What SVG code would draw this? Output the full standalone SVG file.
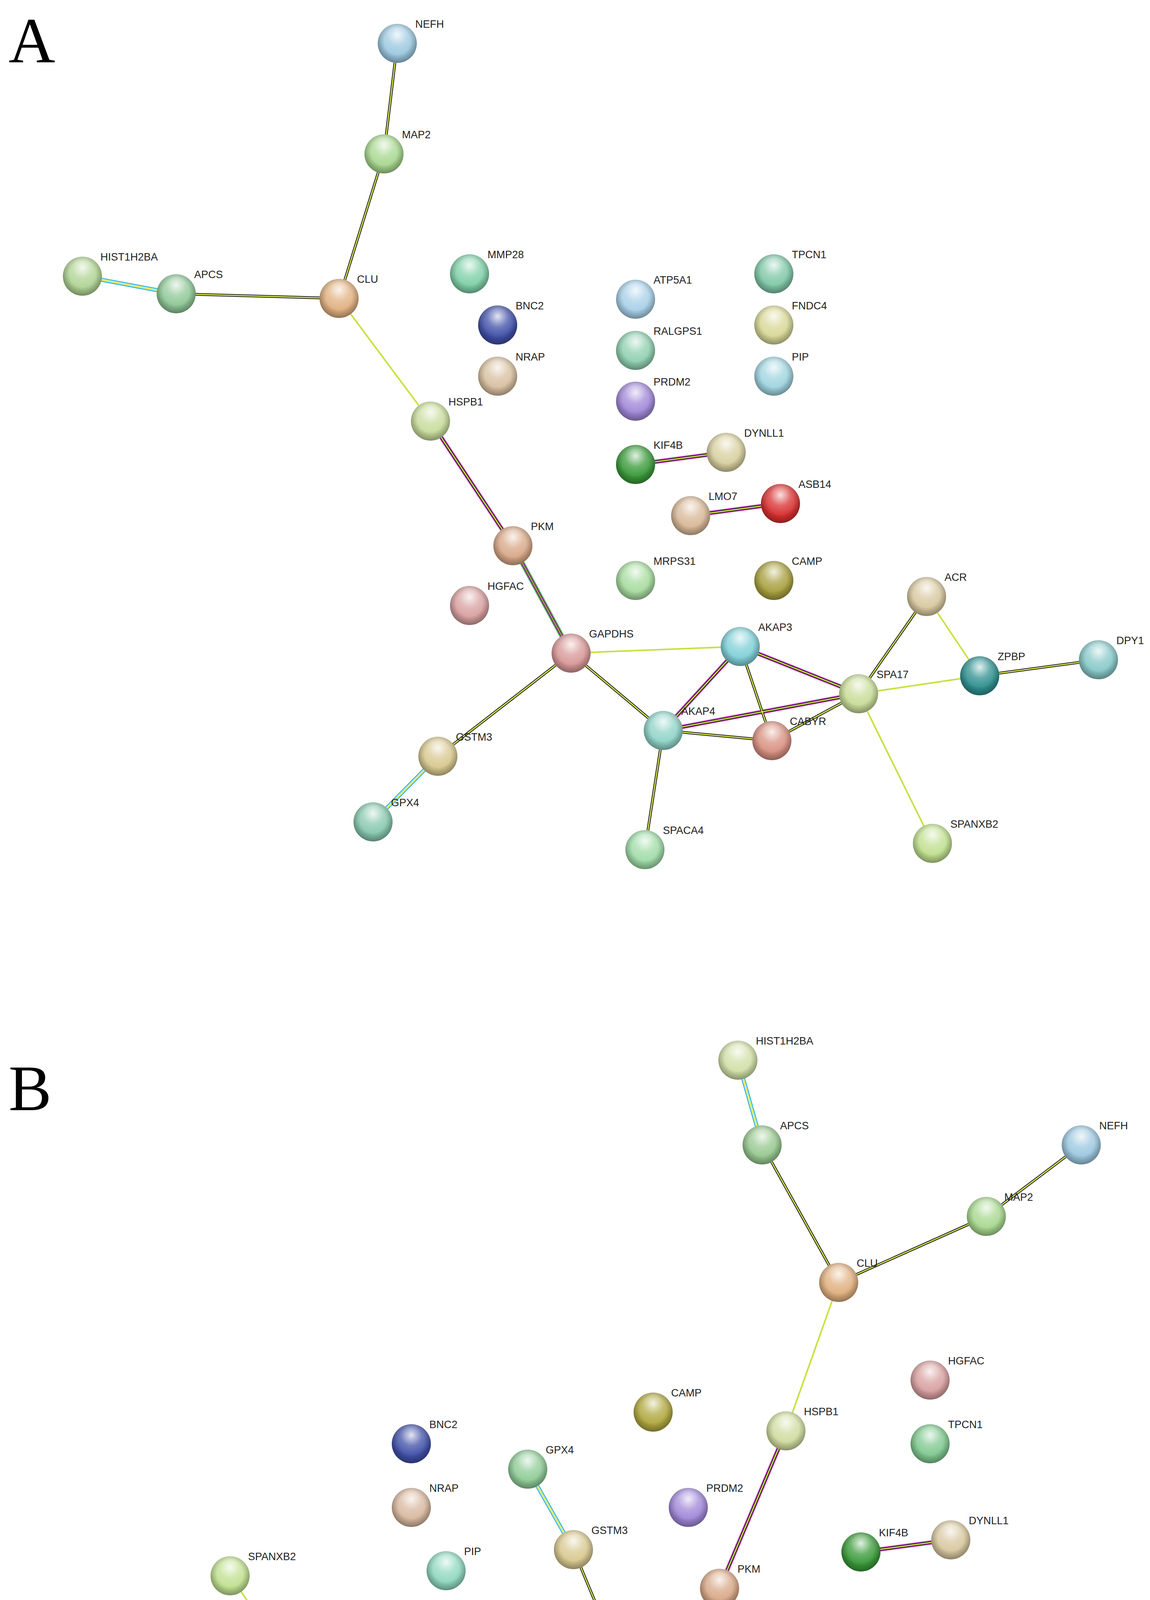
<svg xmlns="http://www.w3.org/2000/svg" xmlns:xlink="http://www.w3.org/1999/xlink" width="2944" height="5673" viewBox="0 0 2944 5673">
<style>
text{font-family:"Liberation Sans",Arial,sans-serif;font-size:27px;fill:#222}
.big{font-family:"Liberation Serif","Times New Roman",serif;font-size:165px;fill:#000}
.n circle{r:50px}
.e line{fill:none}
</style>
<defs>
<radialGradient id="hl" cx="0.5" cy="0.28" r="0.55">
<stop offset="0" stop-color="#fff" stop-opacity="0.85"/>
<stop offset="0.5" stop-color="#fff" stop-opacity="0.25"/>
<stop offset="1" stop-color="#fff" stop-opacity="0"/>
</radialGradient>
<radialGradient id="sh" cx="0.5" cy="0.45" r="0.55">
<stop offset="0.6" stop-color="#000" stop-opacity="0"/>
<stop offset="1" stop-color="#000" stop-opacity="0.35"/>
</radialGradient>
<g id="Aky">
<line x1="1017" y1="111" x2="983" y2="394"/><line x1="983" y1="394" x2="868" y2="764"/><line x1="451" y1="752" x2="868" y2="764"/>
<line x1="1462" y1="1672" x2="1698" y2="1870"/><line x1="1462" y1="1672" x2="1121" y2="1936"/><line x1="1895" y1="1655" x2="1976" y2="1896"/>
<line x1="1698" y1="1870" x2="1976" y2="1896"/><line x1="1976" y1="1896" x2="2198" y2="1776"/><line x1="1698" y1="1870" x2="1651" y2="2175"/>
<line x1="2198" y1="1776" x2="2372" y2="1527"/><line x1="2508" y1="1730" x2="2812" y2="1689"/>
</g>
<g id="Acy"><line x1="211" y1="707" x2="451" y2="752"/><line x1="1121" y1="1936" x2="955" y2="2104"/></g>
<g id="Ay">
<line x1="868" y1="764" x2="1102" y2="1078"/><line x1="1462" y1="1672" x2="1895" y2="1655"/><line x1="2372" y1="1527" x2="2508" y2="1730"/>
<line x1="2508" y1="1730" x2="2198" y2="1776"/><line x1="2198" y1="1776" x2="2387" y2="2159"/>
</g>
<g id="Am">
<line x1="1102" y1="1078" x2="1313" y2="1397"/><line x1="1895" y1="1655" x2="1698" y2="1870"/><line x1="1895" y1="1655" x2="2198" y2="1776"/>
<line x1="1698" y1="1870" x2="2198" y2="1776"/><line x1="1627" y1="1189" x2="1859" y2="1158"/><line x1="1768" y1="1320" x2="1998" y2="1289"/>
</g>
<g id="Ag"><line x1="1313" y1="1397" x2="1462" y2="1672"/></g>
<g id="Bcy"><line x1="1889" y1="2714" x2="1951" y2="2931"/><line x1="1468" y1="3967" x2="1351" y2="3761"/></g>
<g id="Bky">
<line x1="1951" y1="2931" x2="2147" y2="3283"/><line x1="2147" y1="3283" x2="2525" y2="3114"/><line x1="2525" y1="3114" x2="2768" y2="2931"/>
<line x1="1608" y1="4304" x2="1468" y2="3967"/><line x1="1608" y1="4304" x2="1232" y2="4609"/><line x1="536" y1="4343" x2="823" y2="4371"/>
<line x1="547" y1="4573" x2="257" y2="4691"/><line x1="1168" y1="4345" x2="985" y2="4538"/><line x1="985" y1="4538" x2="1232" y2="4609"/>
<line x1="823" y1="4371" x2="985" y2="4538"/><line x1="1232" y1="4609" x2="1123" y2="4898"/><line x1="2132" y1="4750" x2="2293" y2="5364"/>
</g>
<g id="By">
<line x1="2147" y1="3283" x2="2012" y2="3663"/><line x1="1608" y1="4304" x2="1168" y2="4345"/><line x1="589" y1="4034" x2="823" y2="4371"/>
<line x1="536" y1="4343" x2="547" y2="4573"/><line x1="547" y1="4573" x2="823" y2="4371"/>
</g>
<g id="Bm">
<line x1="2012" y1="3663" x2="1842" y2="4066"/><line x1="1842" y1="4066" x2="2153" y2="4483"/><line x1="823" y1="4371" x2="1168" y2="4345"/>
<line x1="823" y1="4371" x2="1232" y2="4609"/><line x1="1168" y1="4345" x2="1232" y2="4609"/><line x1="2204" y1="3973" x2="2434" y2="3942"/>
<line x1="1496" y1="4707" x2="1727" y2="4678"/>
</g>
<g id="Bg"><line x1="1842" y1="4066" x2="1608" y2="4304"/><line x1="1608" y1="4304" x2="2153" y2="4483"/><line x1="1608" y1="4304" x2="2132" y2="4750"/></g>
<g id="Bf">
<line x1="2153" y1="4483" x2="2434" y2="4436"/><line x1="2153" y1="4483" x2="2576" y2="4548"/><line x1="2153" y1="4483" x2="2336" y2="4599"/>
<line x1="2153" y1="4483" x2="2544" y2="4715"/><line x1="2153" y1="4483" x2="2132" y2="4750"/><line x1="2153" y1="4483" x2="2363" y2="4786"/>
<line x1="2434" y1="4436" x2="2576" y2="4548"/><line x1="2434" y1="4436" x2="2336" y2="4599"/><line x1="2434" y1="4436" x2="2544" y2="4715"/>
<line x1="2434" y1="4436" x2="2132" y2="4750"/><line x1="2434" y1="4436" x2="2363" y2="4786"/><line x1="2576" y1="4548" x2="2336" y2="4599"/>
<line x1="2576" y1="4548" x2="2544" y2="4715"/><line x1="2576" y1="4548" x2="2132" y2="4750"/><line x1="2576" y1="4548" x2="2363" y2="4786"/>
<line x1="2336" y1="4599" x2="2544" y2="4715"/><line x1="2336" y1="4599" x2="2132" y2="4750"/><line x1="2336" y1="4599" x2="2363" y2="4786"/>
<line x1="2544" y1="4715" x2="2132" y2="4750"/><line x1="2544" y1="4715" x2="2363" y2="4786"/><line x1="2132" y1="4750" x2="2363" y2="4786"/>
<line x1="2293" y1="5364" x2="2463" y2="5445"/><line x1="2293" y1="5364" x2="2200" y2="5514"/><line x1="2293" y1="5364" x2="2447" y2="5582"/>
<line x1="2293" y1="5364" x2="2293" y2="5622"/><line x1="2463" y1="5445" x2="2200" y2="5514"/><line x1="2463" y1="5445" x2="2447" y2="5582"/>
<line x1="2463" y1="5445" x2="2293" y2="5622"/><line x1="2200" y1="5514" x2="2447" y2="5582"/><line x1="2200" y1="5514" x2="2293" y2="5622"/>
<line x1="2447" y1="5582" x2="2293" y2="5622"/>
</g>
</defs>
<rect width="2944" height="5673" fill="#fff"/>
<text class="big" x="22" y="160">A</text>
<text class="big" x="22" y="2842">B</text>
<g id="connectors" class="e">
<use href="#Bf" stroke="#2ab0d8" stroke-width="15"/>
<use href="#Bf" stroke="#d63ad6" stroke-width="11"/>
<use href="#Bf" stroke="#2cb04a" stroke-width="8"/>
<use href="#Bf" stroke="#222" stroke-width="5"/>
<use href="#Bf" stroke="#d4e84a" stroke-width="2"/>
<use href="#Ag" stroke="#2cb04a" stroke-width="12"/><use href="#Bg" stroke="#2cb04a" stroke-width="12"/>
<use href="#Ag" stroke="#d63ad6" stroke-width="8"/><use href="#Bg" stroke="#d63ad6" stroke-width="8"/>
<use href="#Am" stroke="#d63ad6" stroke-width="11"/><use href="#Bm" stroke="#d63ad6" stroke-width="11"/>
<use href="#Acy" stroke="#2ab0d8" stroke-width="10"/><use href="#Bcy" stroke="#2ab0d8" stroke-width="10"/>
<use href="#Am" stroke="#222" stroke-width="7"/><use href="#Bm" stroke="#222" stroke-width="7"/>
<use href="#Ag" stroke="#222" stroke-width="5"/><use href="#Bg" stroke="#222" stroke-width="5"/>
<use href="#Aky" stroke="#222" stroke-width="7"/><use href="#Bky" stroke="#222" stroke-width="7"/>
<use href="#Acy" stroke="#fff" stroke-width="5"/><use href="#Bcy" stroke="#fff" stroke-width="5"/>
<use href="#Aky" stroke="#d4e84a" stroke-width="3"/><use href="#Bky" stroke="#d4e84a" stroke-width="3"/>
<use href="#Am" stroke="#d4e84a" stroke-width="3"/><use href="#Bm" stroke="#d4e84a" stroke-width="3"/>
<use href="#Ag" stroke="#d4e84a" stroke-width="2"/><use href="#Bg" stroke="#d4e84a" stroke-width="2"/>
<use href="#Acy" stroke="#d4e84a" stroke-width="3"/><use href="#Bcy" stroke="#d4e84a" stroke-width="3"/>
<use href="#Ay" stroke="#c8e03c" stroke-width="4"/><use href="#By" stroke="#c8e03c" stroke-width="4"/>
</g>
<g id="nodesA">
<g id="A_NEFH" class="n" transform="translate(1017,111)"><circle fill="#9cc8e0"/><circle fill="url(#sh)"/><circle fill="url(#hl)"/><text x="46" y="-40">NEFH</text></g>
<g id="A_MAP2" class="n" transform="translate(983,394)"><circle fill="#a8d890"/><circle fill="url(#sh)"/><circle fill="url(#hl)"/><text x="46" y="-40">MAP2</text></g>
<g id="A_CLU" class="n" transform="translate(868,764)"><circle fill="#e0b080"/><circle fill="url(#sh)"/><circle fill="url(#hl)"/><text x="46" y="-40">CLU</text></g>
<g id="A_HIST1H2BA" class="n" transform="translate(211,707)"><circle fill="#b0d494"/><circle fill="url(#sh)"/><circle fill="url(#hl)"/><text x="46" y="-40">HIST1H2BA</text></g>
<g id="A_APCS" class="n" transform="translate(451,752)"><circle fill="#90c898"/><circle fill="url(#sh)"/><circle fill="url(#hl)"/><text x="46" y="-40">APCS</text></g>
<g id="A_MMP28" class="n" transform="translate(1202,701)"><circle fill="#80d0a8"/><circle fill="url(#sh)"/><circle fill="url(#hl)"/><text x="46" y="-40">MMP28</text></g>
<g id="A_BNC2" class="n" transform="translate(1274,832)"><circle fill="#4050a8"/><circle fill="url(#sh)"/><circle fill="url(#hl)"/><text x="46" y="-40">BNC2</text></g>
<g id="A_NRAP" class="n" transform="translate(1274,963)"><circle fill="#d8c0a0"/><circle fill="url(#sh)"/><circle fill="url(#hl)"/><text x="46" y="-40">NRAP</text></g>
<g id="A_HSPB1" class="n" transform="translate(1102,1078)"><circle fill="#c8dc9c"/><circle fill="url(#sh)"/><circle fill="url(#hl)"/><text x="46" y="-40">HSPB1</text></g>
<g id="A_ATP5A1" class="n" transform="translate(1627,766)"><circle fill="#a8d0e8"/><circle fill="url(#sh)"/><circle fill="url(#hl)"/><text x="46" y="-40">ATP5A1</text></g>
<g id="A_RALGPS1" class="n" transform="translate(1627,897)"><circle fill="#90d0b0"/><circle fill="url(#sh)"/><circle fill="url(#hl)"/><text x="46" y="-40">RALGPS1</text></g>
<g id="A_PRDM2" class="n" transform="translate(1627,1027)"><circle fill="#a088d8"/><circle fill="url(#sh)"/><circle fill="url(#hl)"/><text x="46" y="-40">PRDM2</text></g>
<g id="A_TPCN1" class="n" transform="translate(1981,701)"><circle fill="#80c8a8"/><circle fill="url(#sh)"/><circle fill="url(#hl)"/><text x="46" y="-40">TPCN1</text></g>
<g id="A_FNDC4" class="n" transform="translate(1981,832)"><circle fill="#d8d898"/><circle fill="url(#sh)"/><circle fill="url(#hl)"/><text x="46" y="-40">FNDC4</text></g>
<g id="A_PIP" class="n" transform="translate(1981,963)"><circle fill="#a0d4e0"/><circle fill="url(#sh)"/><circle fill="url(#hl)"/><text x="46" y="-40">PIP</text></g>
<g id="A_KIF4B" class="n" transform="translate(1627,1189)"><circle fill="#3a9a3a"/><circle fill="url(#sh)"/><circle fill="url(#hl)"/><text x="46" y="-40">KIF4B</text></g>
<g id="A_DYNLL1" class="n" transform="translate(1859,1158)"><circle fill="#d8d0a0"/><circle fill="url(#sh)"/><circle fill="url(#hl)"/><text x="46" y="-40">DYNLL1</text></g>
<g id="A_LMO7" class="n" transform="translate(1768,1320)"><circle fill="#d8b898"/><circle fill="url(#sh)"/><circle fill="url(#hl)"/><text x="46" y="-40">LMO7</text></g>
<g id="A_ASB14" class="n" transform="translate(1998,1289)"><circle fill="#d83030"/><circle fill="url(#sh)"/><circle fill="url(#hl)"/><text x="46" y="-40">ASB14</text></g>
<g id="A_PKM" class="n" transform="translate(1313,1397)"><circle fill="#d8a888"/><circle fill="url(#sh)"/><circle fill="url(#hl)"/><text x="46" y="-40">PKM</text></g>
<g id="A_HGFAC" class="n" transform="translate(1202,1550)"><circle fill="#d8a0a0"/><circle fill="url(#sh)"/><circle fill="url(#hl)"/><text x="46" y="-40">HGFAC</text></g>
<g id="A_MRPS31" class="n" transform="translate(1627,1486)"><circle fill="#a8dca0"/><circle fill="url(#sh)"/><circle fill="url(#hl)"/><text x="46" y="-40">MRPS31</text></g>
<g id="A_CAMP" class="n" transform="translate(1981,1486)"><circle fill="#a8a040"/><circle fill="url(#sh)"/><circle fill="url(#hl)"/><text x="46" y="-40">CAMP</text></g>
<g id="A_GAPDHS" class="n" transform="translate(1462,1672)"><circle fill="#d89898"/><circle fill="url(#sh)"/><circle fill="url(#hl)"/><text x="46" y="-40">GAPDHS</text></g>
<g id="A_AKAP3" class="n" transform="translate(1895,1655)"><circle fill="#80d0d8"/><circle fill="url(#sh)"/><circle fill="url(#hl)"/><text x="46" y="-40">AKAP3</text></g>
<g id="A_ACR" class="n" transform="translate(2372,1527)"><circle fill="#d8c8a0"/><circle fill="url(#sh)"/><circle fill="url(#hl)"/><text x="46" y="-40">ACR</text></g>
<g id="A_ZPBP" class="n" transform="translate(2508,1730)"><circle fill="#309090"/><circle fill="url(#sh)"/><circle fill="url(#hl)"/><text x="46" y="-40">ZPBP</text></g>
<g id="A_DPY1" class="n" transform="translate(2812,1689)"><circle fill="#88c8c8"/><circle fill="url(#sh)"/><circle fill="url(#hl)"/><text x="46" y="-40">DPY1</text></g>
<g id="A_SPA17" class="n" transform="translate(2198,1776)"><circle fill="#c8dc98"/><circle fill="url(#sh)"/><circle fill="url(#hl)"/><text x="46" y="-40">SPA17</text></g>
<g id="A_AKAP4" class="n" transform="translate(1698,1870)"><circle fill="#90d4c8"/><circle fill="url(#sh)"/><circle fill="url(#hl)"/><text x="46" y="-40">AKAP4</text></g>
<g id="A_CABYR" class="n" transform="translate(1976,1896)"><circle fill="#d89080"/><circle fill="url(#sh)"/><circle fill="url(#hl)"/><text x="46" y="-40">CABYR</text></g>
<g id="A_GSTM3" class="n" transform="translate(1121,1936)"><circle fill="#d8c890"/><circle fill="url(#sh)"/><circle fill="url(#hl)"/><text x="46" y="-40">GSTM3</text></g>
<g id="A_GPX4" class="n" transform="translate(955,2104)"><circle fill="#88c8b0"/><circle fill="url(#sh)"/><circle fill="url(#hl)"/><text x="46" y="-40">GPX4</text></g>
<g id="A_SPACA4" class="n" transform="translate(1651,2175)"><circle fill="#a0dca8"/><circle fill="url(#sh)"/><circle fill="url(#hl)"/><text x="46" y="-40">SPACA4</text></g>
<g id="A_SPANXB2" class="n" transform="translate(2387,2159)"><circle fill="#c0e090"/><circle fill="url(#sh)"/><circle fill="url(#hl)"/><text x="46" y="-40">SPANXB2</text></g>
</g>
<g id="nodesB">
<g id="B_HIST1H2BA" class="n" transform="translate(1889,2714)"><circle fill="#d0e0a8"/><circle fill="url(#sh)"/><circle fill="url(#hl)"/><text x="46" y="-40">HIST1H2BA</text></g>
<g id="B_APCS" class="n" transform="translate(1951,2931)"><circle fill="#98c890"/><circle fill="url(#sh)"/><circle fill="url(#hl)"/><text x="46" y="-40">APCS</text></g>
<g id="B_NEFH" class="n" transform="translate(2768,2931)"><circle fill="#9cc8e0"/><circle fill="url(#sh)"/><circle fill="url(#hl)"/><text x="46" y="-40">NEFH</text></g>
<g id="B_MAP2" class="n" transform="translate(2525,3114)"><circle fill="#a8d890"/><circle fill="url(#sh)"/><circle fill="url(#hl)"/><text x="46" y="-40">MAP2</text></g>
<g id="B_CLU" class="n" transform="translate(2147,3283)"><circle fill="#e0b080"/><circle fill="url(#sh)"/><circle fill="url(#hl)"/><text x="46" y="-40">CLU</text></g>
<g id="B_HGFAC" class="n" transform="translate(2381,3533)"><circle fill="#d8a0a0"/><circle fill="url(#sh)"/><circle fill="url(#hl)"/><text x="46" y="-40">HGFAC</text></g>
<g id="B_CAMP" class="n" transform="translate(1672,3615)"><circle fill="#b0a840"/><circle fill="url(#sh)"/><circle fill="url(#hl)"/><text x="46" y="-40">CAMP</text></g>
<g id="B_HSPB1" class="n" transform="translate(2012,3663)"><circle fill="#d0dca0"/><circle fill="url(#sh)"/><circle fill="url(#hl)"/><text x="46" y="-40">HSPB1</text></g>
<g id="B_TPCN1" class="n" transform="translate(2381,3696)"><circle fill="#80c890"/><circle fill="url(#sh)"/><circle fill="url(#hl)"/><text x="46" y="-40">TPCN1</text></g>
<g id="B_BNC2" class="n" transform="translate(1053,3696)"><circle fill="#4050a8"/><circle fill="url(#sh)"/><circle fill="url(#hl)"/><text x="46" y="-40">BNC2</text></g>
<g id="B_GPX4" class="n" transform="translate(1351,3761)"><circle fill="#90cc98"/><circle fill="url(#sh)"/><circle fill="url(#hl)"/><text x="46" y="-40">GPX4</text></g>
<g id="B_PRDM2" class="n" transform="translate(1762,3859)"><circle fill="#a088d8"/><circle fill="url(#sh)"/><circle fill="url(#hl)"/><text x="46" y="-40">PRDM2</text></g>
<g id="B_NRAP" class="n" transform="translate(1053,3859)"><circle fill="#d8b8a0"/><circle fill="url(#sh)"/><circle fill="url(#hl)"/><text x="46" y="-40">NRAP</text></g>
<g id="B_KIF4B" class="n" transform="translate(2204,3973)"><circle fill="#3a9a3a"/><circle fill="url(#sh)"/><circle fill="url(#hl)"/><text x="46" y="-40">KIF4B</text></g>
<g id="B_DYNLL1" class="n" transform="translate(2434,3942)"><circle fill="#d8c8a0"/><circle fill="url(#sh)"/><circle fill="url(#hl)"/><text x="46" y="-40">DYNLL1</text></g>
<g id="B_GSTM3" class="n" transform="translate(1468,3967)"><circle fill="#d8c890"/><circle fill="url(#sh)"/><circle fill="url(#hl)"/><text x="46" y="-40">GSTM3</text></g>
<g id="B_SPANXB2" class="n" transform="translate(589,4034)"><circle fill="#c0e090"/><circle fill="url(#sh)"/><circle fill="url(#hl)"/><text x="46" y="-40">SPANXB2</text></g>
<g id="B_PIP" class="n" transform="translate(1142,4021)"><circle fill="#90d8c0"/><circle fill="url(#sh)"/><circle fill="url(#hl)"/><text x="46" y="-40">PIP</text></g>
<g id="B_PKM" class="n" transform="translate(1842,4066)"><circle fill="#d8a888"/><circle fill="url(#sh)"/><circle fill="url(#hl)"/><text x="46" y="-40">PKM</text></g>
<g id="B_FNDC4" class="n" transform="translate(2204,4188)"><circle fill="#d8d098"/><circle fill="url(#sh)"/><circle fill="url(#hl)"/><text x="46" y="-40">FNDC4</text></g>
<g id="B_RALGPS1" class="n" transform="translate(1319,4188)"><circle fill="#90d0a0"/><circle fill="url(#sh)"/><circle fill="url(#hl)"/><text x="46" y="-40">RALGPS1</text></g>
<g id="B_GAPDHS" class="n" transform="translate(1608,4304)"><circle fill="#d89898"/><circle fill="url(#sh)"/><circle fill="url(#hl)"/><text x="46" y="-40">GAPDHS</text></g>
<g id="B_ACR" class="n" transform="translate(536,4343)"><circle fill="#d8c0a0"/><circle fill="url(#sh)"/><circle fill="url(#hl)"/><text x="46" y="-40">ACR</text></g>
<g id="B_SPA17" class="n" transform="translate(823,4371)"><circle fill="#d0dc98"/><circle fill="url(#sh)"/><circle fill="url(#hl)"/><text x="46" y="-40">SPA17</text></g>
<g id="B_AKAP3" class="n" transform="translate(1168,4345)"><circle fill="#80d0a8"/><circle fill="url(#sh)"/><circle fill="url(#hl)"/><text x="46" y="-40">AKAP3</text></g>
<g id="B_ZPBP" class="n" transform="translate(547,4573)"><circle fill="#309898"/><circle fill="url(#sh)"/><circle fill="url(#hl)"/><text x="46" y="-40">ZPBP</text></g>
<g id="B_CABYR" class="n" transform="translate(985,4538)"><circle fill="#d89888"/><circle fill="url(#sh)"/><circle fill="url(#hl)"/><text x="46" y="-40">CABYR</text></g>
<g id="B_AKAP4" class="n" transform="translate(1232,4609)"><circle fill="#90d8a8"/><circle fill="url(#sh)"/><circle fill="url(#hl)"/><text x="46" y="-40">AKAP4</text></g>
<g id="B_DPY19L2" class="n" transform="translate(257,4691)"><circle fill="#88c8a8"/><circle fill="url(#sh)"/><circle fill="url(#hl)"/><text x="46" y="-40">DPY19L2</text></g>
<g id="B_MMP28" class="n" transform="translate(964,4760)"><circle fill="#80d0a8"/><circle fill="url(#sh)"/><circle fill="url(#hl)"/><text x="46" y="-40">MMP28</text></g>
<g id="B_SPACA4" class="n" transform="translate(1123,4898)"><circle fill="#a8d890"/><circle fill="url(#sh)"/><circle fill="url(#hl)"/><text x="46" y="-40">SPACA4</text></g>
<g id="B_LMO7" class="n" transform="translate(1496,4707)"><circle fill="#d8b098"/><circle fill="url(#sh)"/><circle fill="url(#hl)"/><text x="46" y="-40">LMO7</text></g>
<g id="B_ASB14" class="n" transform="translate(1727,4678)"><circle fill="#d83030"/><circle fill="url(#sh)"/><circle fill="url(#hl)"/><text x="46" y="-40">ASB14</text></g>
<g id="B_ATP5B" class="n" transform="translate(2153,4483)"><circle fill="#e8e8e8"/><circle fill="url(#sh)"/><circle fill="url(#hl)"/><text x="46" y="-40">ATP5B</text></g>
<g id="B_ATP5D" class="n" transform="translate(2434,4436)"><circle fill="#e8e8e8"/><circle fill="url(#sh)"/><circle fill="url(#hl)"/><text x="46" y="-40">ATP5D</text></g>
<g id="B_ATP5O" class="n" transform="translate(2576,4548)"><circle fill="#e8e8e8"/><circle fill="url(#sh)"/><circle fill="url(#hl)"/><text x="46" y="-40">ATP5O</text></g>
<g id="B_ATP5J2" class="n" transform="translate(2544,4715)"><circle fill="#e8e8e8"/><circle fill="url(#sh)"/><circle fill="url(#hl)"/><text x="46" y="-40">ATP5J2</text></g>
<g id="B_ATP5A1" class="n" transform="translate(2336,4599)"><circle fill="#80c8b0"/><circle fill="url(#sh)"/><circle fill="url(#hl)"/><text x="46" y="-40">ATP5A1</text></g>
<g id="B_ATP5H" class="n" transform="translate(2363,4786)"><circle fill="#e8e8e8"/><circle fill="url(#sh)"/><circle fill="url(#hl)"/><text x="46" y="-40">ATP5H</text></g>
<g id="B_ATP5C1" class="n" transform="translate(2132,4750)"><circle fill="#e8e8e8"/><circle fill="url(#sh)"/><circle fill="url(#hl)"/><text x="46" y="-40">ATP5C1</text></g>
<g id="B_MRPS23" class="n" transform="translate(2293,5364)"><circle fill="#e8e8e8"/><circle fill="url(#sh)"/><circle fill="url(#hl)"/><text x="46" y="-40">MRPS23</text></g>
<g id="B_MRPS18B" class="n" transform="translate(2463,5445)"><circle fill="#e8e8e8"/><circle fill="url(#sh)"/><circle fill="url(#hl)"/><text x="46" y="-40">MRPS18B</text></g>
<g id="B_MRPS35" class="n" transform="translate(2200,5514)"><circle fill="#e8e8e8"/><circle fill="url(#sh)"/><circle fill="url(#hl)"/><text x="46" y="-46">MRPS35</text></g>
<g id="B_MRP" class="n" transform="translate(2293,5622)"><circle fill="#b8d890"/><circle fill="url(#sh)"/><circle fill="url(#hl)"/><text x="46" y="-40">MRP</text></g>
<g id="B_PTCD3" class="n" transform="translate(2447,5582)"><circle fill="#e8e8e8"/><circle fill="url(#sh)"/><circle fill="url(#hl)"/><text x="46" y="-40">PTCD3</text></g>
</g>
</svg>
